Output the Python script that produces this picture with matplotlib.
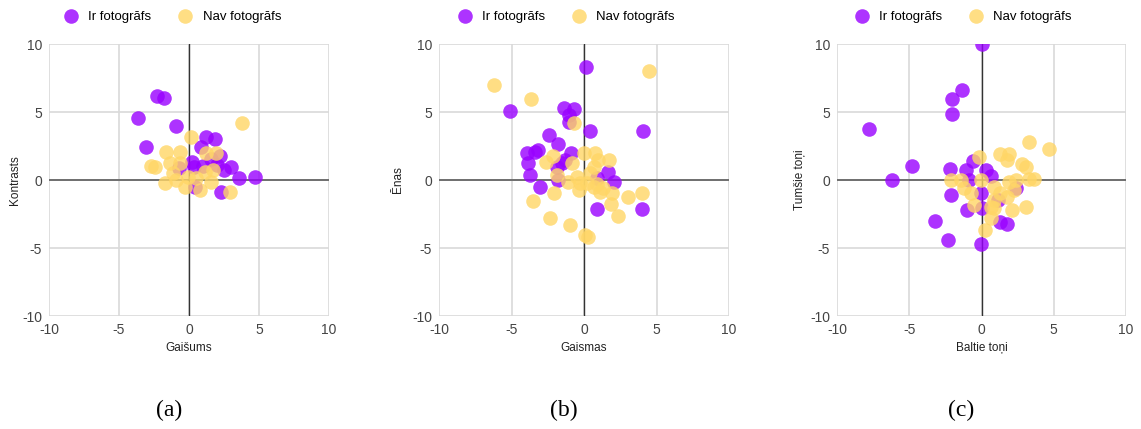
import matplotlib
matplotlib.use('Agg')
import matplotlib.pyplot as plt

plt.rcParams['font.family'] = ['Liberation Sans', 'DejaVu Sans']
plt.rcParams['axes.unicode_minus'] = False

series_names = ['Ir fotogrāfs', 'Nav fotogrāfs']
colors = ['#9900ff', '#ffd666']
panel_tags = ['(a)', '(b)', '(c)']
x_labels = ['Gaišums', 'Gaismas', 'Baltie toņi']
y_labels = ['Kontrasts', 'Ēnas', 'Tumšie toņi']
ticks = [-10, -5, 0, 5, 10]

# (a) Gaišums / Kontrasts
a_ir_x = [-2.3, -1.75, -3.64, -0.95, -3.04, 1.24, 1.88, 0.84, -0.71, 0.24, 0.33, 1.55, 2.19, 2.0, 3.02, 2.48, 3.57, 4.71, 0.4, 2.26, 1.0]
a_ir_y = [6.18, 6.06, 4.54, 4.0, 2.41, 3.14, 3.02, 2.41, 0.86, 1.35, 0.93, 1.52, 1.77, 1.1, 0.93, 0.74, 0.12, 0.2, -0.49, -0.86, 1.0]
a_nav_x = [3.81, 0.12, -0.67, -1.62, -2.69, -1.38, -0.67, -1.74, -0.9, -0.31, 0.76, 2.9, 1.6, 1.71, 1.12, 1.95, 1.19, -0.07, 0.52, -1.14, -2.45]
a_nav_y = [4.22, 3.14, 2.08, 2.08, 1.03, 1.23, 1.23, -0.25, 0.0, -0.49, -0.74, -0.86, -0.12, 0.74, 0.61, 2.0, 2.0, 0.25, 0.12, 0.49, 0.98]

# (b) Gaismas / Ēnas
b_ir_x = [0.12, -5.12, -1.41, -0.67, -1.04, -1.04, 0.41, 4.03, -2.4, -1.77, -3.96, -3.36, -3.16, -0.9, -3.85, -3.73, -3.04, -1.82, -1.84, -1.54, -1.31, 0.88, 1.68, 2.03, 0.88, 3.96]
b_ir_y = [8.32, 5.04, 5.31, 5.19, 4.81, 4.27, 3.58, 3.58, 3.33, 2.64, 1.98, 2.07, 2.22, 1.95, 1.23, 0.37, -0.54, 0.0, 0.99, 1.23, 1.48, 0.12, 0.62, -0.17, -2.1, -2.1]
b_nav_x = [-6.22, -3.69, 4.45, -0.67, -2.65, -2.12, -1.89, -0.85, -1.08, -0.51, -0.35, 0.0, 0.76, 0.99, 1.75, 0.65, 0.65, 1.11, 1.91, 1.87, 3.02, 3.99, 2.33, -3.55, -2.05, -2.35, -0.97, 0.07, 0.3, -0.28, 0.18, 0.41, 0.9, 1.3]
b_nav_y = [6.96, 5.93, 8.02, 4.2, 1.36, 1.73, 0.37, 1.23, -0.12, 0.25, -0.74, 1.98, 1.98, 1.48, 1.48, 0.99, -0.49, -0.86, -0.99, -1.73, -1.23, -0.99, -2.67, -1.53, -0.99, -2.79, -3.33, -4.07, -4.2, -0.25, -0.25, 0.49, -0.3, -0.6]

# (c) Baltie toņi / Tumšie toņi
c_ir_x = [0.0, -1.38, -2.03, -2.03, -7.8, -4.8, -6.18, -2.21, -0.6, -1.06, -0.88, 0.28, 0.62, -2.1, -1.04, -3.25, -2.33, -0.07, 1.27, 1.73, 1.13, -0.07, 0.05, 2.35]
c_ir_y = [10.0, 6.6, 5.99, 4.85, 3.74, 1.06, 0.0, 0.81, 1.4, 0.74, 0.0, 0.74, 0.32, -1.11, -2.17, -3.0, -4.38, -4.68, -3.08, -3.25, -1.48, -0.99, -2.09, -0.62]
c_nav_x = [4.66, 3.28, 1.31, 1.89, 1.78, 2.81, 3.09, 3.62, 3.28, 2.35, 1.89, -0.18, -0.07, -2.14, -1.45, -1.22, -0.76, -0.53, 0.85, 0.85, 0.62, 0.85, 1.78, 2.12, 3.05, 0.21, 0.62, 2.24, 1.31]
c_nav_y = [2.29, 2.76, 1.9, 1.9, 1.48, 1.16, 0.99, 0.07, 0.07, 0.0, -0.12, 1.72, 0.0, 0.0, 0.0, -0.62, -0.99, -1.85, -0.49, -1.48, -1.97, -2.09, -1.23, -2.22, -2.02, -3.69, -2.83, -0.74, -0.99]

panels = [
    (a_ir_x, a_ir_y, a_nav_x, a_nav_y),
    (b_ir_x, b_ir_y, b_nav_x, b_nav_y),
    (c_ir_x, c_ir_y, c_nav_x, c_nav_y),
]

# axes boxes in figure fractions: left, bottom, width, height
boxes = [
    (0.0429, 0.2634, 0.2454, 0.634),
    (0.3848, 0.2634, 0.2542, 0.634),
    (0.7336, 0.2634, 0.2533, 0.634),
]
ylabel_x = [-0.10, -0.12, -0.107]
legend_x = [0.43, 0.428, 0.426]

fig = plt.figure(figsize=(11.41, 4.29), dpi=100)

for i, (ir_x, ir_y, nav_x, nav_y) in enumerate(panels):
    ax = fig.add_axes(boxes[i])
    ax.set_xlim(-10, 10)
    ax.set_ylim(-10, 10)
    ax.set_xticks(ticks)
    ax.set_yticks(ticks)
    ax.tick_params(length=0, pad=5, labelsize=10, labelcolor='#444444')
    for s in ax.spines.values():
        s.set_visible(False)
    ax.set_axisbelow(True)
    ax.grid(True, color='#d9d9d9', linewidth=1.2)
    # zero lines over the grid
    ax.axhline(0, color='#666666', linewidth=1.3, zorder=2)
    ax.axvline(0, color='#333333', linewidth=1.0, zorder=2)

    h1 = ax.scatter(ir_x, ir_y, s=110, color=colors[0], alpha=0.8, linewidths=0, zorder=3)
    h2 = ax.scatter(nav_x, nav_y, s=110, color=colors[1], alpha=0.8, linewidths=0, zorder=4)

    ax.set_xlabel(x_labels[i], fontsize=8.5, color='#222222')
    ax.set_ylabel(y_labels[i], fontsize=8.5, color='#222222')
    ax.xaxis.set_label_coords(0.5, -0.095)
    ax.yaxis.set_label_coords(ylabel_x[i], 0.5)

    ax.legend([h1, h2], series_names, loc='center', bbox_to_anchor=(legend_x[i], 1.1),
              ncol=2, frameon=False, fontsize=9.5, handletextpad=0.3, columnspacing=1.6,
              borderaxespad=0, scatterpoints=1)

    fig.text(boxes[i][0] + boxes[i][2] * 0.43, 0.044, panel_tags[i], ha='center', va='center',
             fontsize=17, family='Liberation Serif')

plt.savefig('out.png', dpi=100)
